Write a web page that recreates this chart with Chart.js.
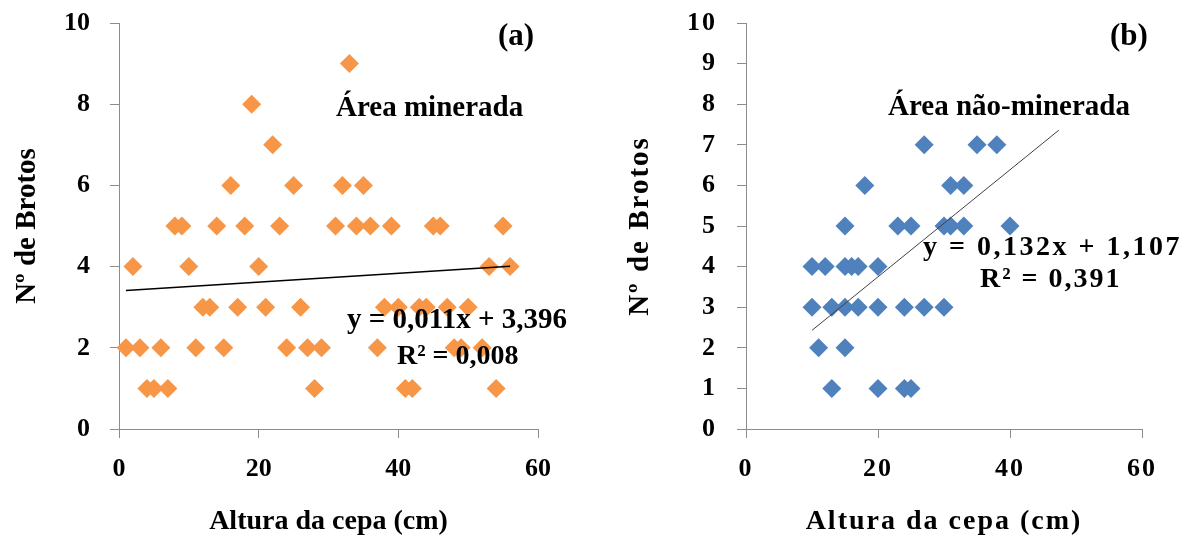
<!DOCTYPE html>
<html lang="pt">
<head>
<meta charset="utf-8">
<script src="https://cdn.jsdelivr.net/npm/chart.js@4.4.1/dist/chart.umd.min.js"></script>
<style>
    html, body      { margin: 0; padding: 0; background: #FFFFFF; }
    #page           { position: relative; width: 1193px; height: 539px; overflow: hidden; }
    .graph_box      { position: absolute; top: 0; height: 539px; }
    #graph_box_a    { left: 0; width: 600px; }
    #graph_box_b    { left: 620px; width: 573px; }
</style>
</head>
<body>
<div id="page">
    <div class="graph_box" id="graph_box_a"><canvas id="graph_a"></canvas></div>
    <div class="graph_box" id="graph_box_b"><canvas id="graph_b"></canvas></div>
</div>
<script>

// (a) Área minerada
var minerada_altura         = [1, 2, 3, 4, 5, 6, 7, 8, 9, 10, 11, 12, 13, 14, 15, 16, 17, 18, 19, 20, 21, 22, 23, 24, 25, 26, 27, 28, 29,
                               31, 32, 33, 34, 35, 36, 37, 38, 39, 40, 41, 42, 43, 44, 45, 46, 47, 48, 49, 50, 52, 53, 54, 55, 56];
var minerada_brotos         = [2, 4, 2, 1, 1, 2, 1, 5, 5, 4, 2, 3, 3, 5, 2, 6, 3, 5, 8, 4, 3, 7, 5, 2, 6, 3, 2, 1, 2,
                               5, 6, 9, 5, 6, 5, 2, 3, 5, 3, 1, 1, 3, 3, 5, 5, 3, 2, 2, 3, 2, 4, 1, 5, 4];
var minerada_tend_altura    = [1, 56];
var minerada_tend_brotos    = [3.41, 4.01];

// (b) Área não-minerada
var nao_minerada_altura     = [27, 35, 38, 18, 31, 33, 15, 23, 25, 30, 31, 33, 40, 10, 12, 15, 16, 17, 20,
                               10, 13, 15, 17, 20, 24, 27, 30, 11, 15, 13, 20, 24, 25];
var nao_minerada_brotos     = [7, 7, 7, 6, 6, 6, 5, 5, 5, 5, 5, 5, 5, 4, 4, 4, 4, 4, 4,
                               3, 3, 3, 3, 3, 3, 3, 3, 2, 2, 1, 1, 1, 1];
var nao_minerada_tend_altura = [10, 47.4];
var nao_minerada_tend_brotos = [2.43, 7.36];

var TICKS_X                 = [0, 20, 40, 60];
var TICKS_Y_A               = [0, 2, 4, 6, 8, 10];
var TICKS_Y_B               = [0, 1, 2, 3, 4, 5, 6, 7, 8, 9, 10];

var FONTE                   = '"Liberation Serif", "Times New Roman", serif';
var COR_EIXO                = '#8C8C8C';



function graph_pontos(xs, ys) {

    return xs.map(function(x, i) { return { x: x, y: ys[i] }; });
}



var plugin_textos = {
    id: 'textos',
    beforeDraw: function(chart, args, opts) {
        chart.ctx.letterSpacing = opts.spacing || '0px';
    },
    afterDraw: function(chart, args, opts) {

        var ctx = chart.ctx;

        ctx.save();
        ctx.fillStyle       = '#000000';
        ctx.textAlign       = 'left';
        ctx.textBaseline    = 'alphabetic';

        opts.items.forEach(function(item) {
            ctx.font            = 'bold ' + item.size + 'px ' + FONTE;
            ctx.letterSpacing   = item.spacing || '0px';
            ctx.fillText(item.text, item.x, item.y);
        });

        ctx.restore();
    }
};



function graph_options(p) {

    return {
        responsive: true,
        maintainAspectRatio: false,
        animation: false,
        devicePixelRatio: 1,
        layout: {
            padding: { top: 23, right: p.padding_right, bottom: 0, left: 0 }
        },
        scales: {
            x: {
                type: 'linear',
                min: 0,
                max: 60,
                afterBuildTicks: function(scale) { scale.ticks = TICKS_X.map(function(v) { return { value: v }; }); },
                afterFit: function(scale) {
                    scale.height        = 110;
                    scale.paddingLeft   = 0;
                    scale.paddingRight  = 0;
                },
                ticks: {
                    color: '#000000',
                    font: { family: FONTE, size: 26, weight: 'bold' },
                    padding: 16,
                    maxRotation: 0,
                },
                grid: {
                    drawOnChartArea: false,
                    drawTicks: true,
                    tickLength: 9,
                    color: COR_EIXO,
                },
                border: { display: true, color: COR_EIXO, width: 1 },
                title: {
                    display: true,
                    text: 'Altura da cepa (cm)',
                    color: '#000000',
                    font: { family: FONTE, size: 28, weight: 'bold', lineHeight: 1.2 },
                    padding: { top: 0, bottom: 0 },
                }
            },
            y: {
                type: 'linear',
                min: 0,
                max: 10,
                afterBuildTicks: function(scale) { scale.ticks = p.ticks_y.map(function(v) { return { value: v }; }); },
                afterFit: function(scale) {
                    scale.width         = p.eixo_y_largura;
                    scale.paddingTop    = 0;
                    scale.paddingBottom = 0;
                },
                ticks: {
                    color: '#000000',
                    font: { family: FONTE, size: 26, weight: 'bold' },
                    padding: 20,
                },
                grid: {
                    drawOnChartArea: false,
                    drawTicks: true,
                    tickLength: 9,
                    color: COR_EIXO,
                },
                border: { display: true, color: COR_EIXO, width: 1 },
                title: {
                    display: true,
                    text: p.titulo_y,
                    color: '#000000',
                    font: { family: FONTE, size: 29, weight: 'bold', lineHeight: 1.2 },
                    padding: { top: p.titulo_y_padding, bottom: 0 },
                }
            }
        },
        plugins: {
            legend: { display: false },
            tooltip: { enabled: false },
            textos: { spacing: p.spacing, items: p.textos }
        }
    };
}



function graph_create(canvas, p) {

    return new Chart(canvas, {
        type: 'scatter',
        data: {
            datasets: [
                {
                    data: graph_pontos(p.tend_x, p.tend_y),
                    showLine: true,
                    borderColor: p.cor_tend,
                    borderWidth: p.largura_tend,
                    pointRadius: 0,
                    clip: false,
                },
                {
                    data: graph_pontos(p.xs, p.ys),
                    pointStyle: 'rectRot',
                    pointRadius: 9.5,
                    pointBorderWidth: 0,
                    pointBackgroundColor: p.cor,
                    clip: false,
                }
            ]
        },
        options: graph_options(p),
        plugins: [plugin_textos]
    });
}



graph_create(document.getElementById('graph_a'), {
    xs: minerada_altura,
    ys: minerada_brotos,
    tend_x: minerada_tend_altura,
    tend_y: minerada_tend_brotos,
    cor: '#F79646',
    cor_tend: '#000000',
    largura_tend: 1.5,
    ticks_y: TICKS_Y_A,
    eixo_y_largura: 119,
    padding_right: 62,
    titulo_y: 'Nº de Brotos',
    titulo_y_padding: 10,
    spacing: '0px',
    textos: [
        { text: '(a)', x: 498, y: 45, size: 31 },
        { text: 'Área minerada', x: 336, y: 116, size: 29 },
        { text: 'y = 0,011x + 3,396', x: 347, y: 328, size: 29 },
        { text: 'R² = 0,008', x: 397, y: 364, size: 28 },
    ]
});

graph_create(document.getElementById('graph_b'), {
    xs: nao_minerada_altura,
    ys: nao_minerada_brotos,
    tend_x: nao_minerada_tend_altura,
    tend_y: nao_minerada_tend_brotos,
    cor: '#4F81BD',
    cor_tend: '#404040',
    largura_tend: 1,
    ticks_y: TICKS_Y_B,
    eixo_y_largura: 126,
    padding_right: 51,
    titulo_y: 'Nº de Brotos',
    titulo_y_padding: 3,
    spacing: '2px',
    textos: [
        { text: '(b)', x: 490, y: 45, size: 31 },
        { text: 'Área não-minerada', x: 268, y: 115, size: 29 },
        { text: 'y = 0,132x + 1,107', x: 303, y: 255, size: 28, spacing: '2.5px' },
        { text: 'R² = 0,391', x: 360, y: 287, size: 28, spacing: '2px' },
    ]
});

</script>
</body>
</html>
